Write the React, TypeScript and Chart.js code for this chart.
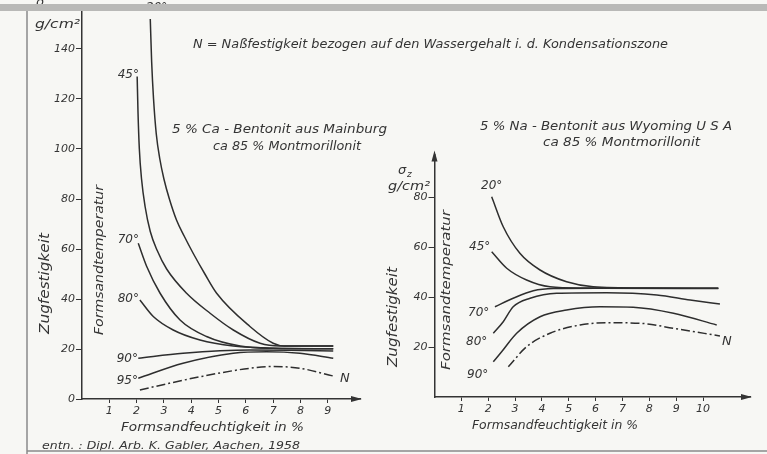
import React, { useEffect, useRef } from 'react';
import { Chart, registerables } from 'chart.js';
Chart.register(...registerables);

const W = 767;
const H = 454;
const INK = '#343434';
const LINE = '#2e2e2e';
const FONT = '"DejaVu Sans", "Liberation Sans", sans-serif';

// ---------- Left panel: 5 % Ca-Bentonit aus Mainburg ----------
const LEFT_X_TICKS = [1, 2, 3, 4, 5, 6, 7, 8, 9];
const LEFT_Y_TICKS = [0, 20, 40, 60, 80, 100, 120, 140];
const L20_X = [2.5, 2.55, 2.62, 2.72, 2.85, 3.0, 3.2, 3.46, 3.75, 4.07, 4.5, 4.93, 6.15, 7.0, 7.4, 9.2];
const L20_Y = [152, 135, 120, 106, 96, 88, 80, 71.6, 65, 58.3, 50, 42.3, 29, 22.3, 21.2, 21.2];
const L45_X = [2.02, 2.05, 2.1, 2.18, 2.31, 2.5, 2.75, 3.1, 3.83, 4.69, 5.54, 6.52, 7.25, 9.2];
const L45_Y = [129, 115, 100, 88, 77, 67, 59.5, 52, 42.3, 34.3, 27.6, 22.3, 21.2, 21.2];
const L70_X = [2.06, 2.37, 2.86, 3.59, 4.56, 5.79, 7.0, 9.2];
const L70_Y = [62.3, 53, 42.3, 31.6, 25, 21.2, 20.3, 20.1];
const L80_X = [2.12, 2.61, 3.34, 4.32, 5.54, 7.0, 9.2];
const L80_Y = [39.6, 33, 27.6, 23.6, 21.2, 20.3, 20.1];
const L90_X = [2.06, 3.7, 6.15, 7.6, 9.2];
const L90_Y = [16.3, 18.3, 19.6, 19.5, 19.2];
const L95_X = [2.06, 3.7, 5.54, 6.76, 7.98, 9.2];
const L95_Y = [8.3, 14.3, 18.3, 18.9, 18.3, 16.3];
const LN_X = [2.12, 3.2, 4.32, 6.15, 7.0, 7.98, 9.2];
const LN_Y = [3.6, 6.3, 8.9, 12.3, 13, 12.3, 9.2];

// ---------- Right panel: 5 % Na-Bentonit aus Wyoming ----------
const RIGHT_X_TICKS = [1, 2, 3, 4, 5, 6, 7, 8, 9, 10];
const RIGHT_Y_TICKS = [20, 40, 60, 80];
const R20_X = [2.13, 2.56, 3.18, 3.93, 4.92, 5.91, 8.0, 10.57];
const R20_Y = [80.1, 68.1, 57.5, 50.8, 46.1, 44.1, 43.6, 43.5];
const R45_X = [2.13, 2.69, 3.43, 4.3, 5.5, 10.57];
const R45_Y = [58.1, 51.5, 46.8, 44.1, 43.6, 43.5];
const R70_X = [2.25, 2.93, 3.68, 4.43, 6.0, 10.57];
const R70_Y = [36.1, 39.5, 42.5, 43.4, 43.5, 43.4];
const R80_X = [2.19, 2.56, 2.93, 3.56, 4.55, 6.41, 8.28, 9.52, 10.63];
const R80_Y = [25.5, 30.1, 36.1, 39.5, 41.5, 41.7, 40.8, 38.8, 37.2];
const R90_X = [2.19, 2.5, 3.06, 3.93, 4.92, 6.16, 7.4, 8.9, 10.51];
const R90_Y = [14.1, 18.1, 25.5, 32.1, 34.8, 36.1, 35.9, 33.5, 28.8];
const RN_X = [2.75, 3.43, 4.3, 5.42, 6.41, 7.65, 8.9, 10.63];
const RN_Y = [12.1, 20.1, 25.5, 28.8, 29.7, 29.5, 27.5, 24.4];

const pts = (xs: number[], ys: number[]) => xs.map((x, i) => ({ x, y: ys[i] }));

function ds(label: string, xs: number[], ys: number[], dashed = false) {
  return {
    label,
    data: pts(xs, ys),
    borderColor: LINE,
    borderWidth: 1.5,
    pointRadius: 0,
    fill: false,
    cubicInterpolationMode: 'monotone' as const,
    borderDash: dashed ? [9, 3, 2, 3] : [],
  };
}

type TOpts = { align?: CanvasTextAlign; rot?: number; fitW?: number; bold?: boolean };
function txt(ctx: CanvasRenderingContext2D, s: string, x: number, y: number, size: number, o: TOpts = {}) {
  ctx.save();
  ctx.font = `italic ${o.bold ? 'bold ' : ''}${size}px ${FONT}`;
  ctx.fillStyle = INK;
  ctx.textBaseline = 'middle';
  ctx.textAlign = o.align || 'left';
  ctx.translate(x, y);
  if (o.rot) ctx.rotate(o.rot);
  if (o.fitW) {
    const m = ctx.measureText(s).width;
    ctx.scale(o.fitW / m, 1);
  }
  ctx.fillText(s, 0, 0);
  ctx.restore();
}

function arrow(ctx: CanvasRenderingContext2D, x: number, y: number, dir: 'right' | 'up') {
  ctx.save();
  ctx.fillStyle = INK;
  ctx.beginPath();
  if (dir === 'right') {
    ctx.moveTo(x, y);
    ctx.lineTo(x - 11, y - 3);
    ctx.lineTo(x - 11, y + 3);
  } else {
    ctx.moveTo(x, y);
    ctx.lineTo(x - 3, y + 11);
    ctx.lineTo(x + 3, y + 11);
  }
  ctx.closePath();
  ctx.fill();
  ctx.restore();
}

function axes(xMax: number, yMax: number, xTicks: number[], yTicks: number[], yW: number, xH: number) {
  const tickFont = { family: FONT, size: 11, style: 'italic' as const };
  return {
    x: {
      type: 'linear' as const,
      min: 0,
      max: xMax,
      afterFit: (s: any) => { s.height = xH; },
      afterBuildTicks: (s: any) => { s.ticks = xTicks.map((v) => ({ value: v })); },
      ticks: { font: tickFont, color: INK, padding: 2, maxRotation: 0, autoSkip: false },
      grid: { drawOnChartArea: false, drawTicks: true, tickLength: 4, color: INK, lineWidth: 1 },
      border: { display: true, color: INK, width: 1.5 },
    },
    y: {
      type: 'linear' as const,
      min: 0,
      max: yMax,
      afterFit: (s: any) => { s.width = yW; },
      afterBuildTicks: (s: any) => { s.ticks = yTicks.map((v) => ({ value: v })); },
      ticks: { font: tickFont, color: INK, padding: 1, autoSkip: false },
      grid: { drawOnChartArea: false, drawTicks: true, tickLength: 6, color: INK, lineWidth: 1 },
      border: { display: true, color: INK, width: 1.5 },
    },
  };
}

const leftDecor = {
  id: 'leftDecor',
  afterDraw(chart: any) {
    const ctx: CanvasRenderingContext2D = chart.ctx;
    const a = chart.chartArea;
    arrow(ctx, a.right + 2, a.bottom, 'right');
    txt(ctx, 'σ', 36, 3, 13);
    txt(ctx, 'g/cm²', 35, 25, 12.5, { fitW: 45 });
    txt(ctx, 'Zugfestigkeit', 45, 334, 14, { rot: -Math.PI / 2, fitW: 101 });
    txt(ctx, 'Formsandtemperatur', 100, 335, 13, { rot: -Math.PI / 2, fitW: 150 });
    txt(ctx, 'Formsandfeuchtigkeit in %', 121, 428, 12, { fitW: 183 });
    txt(ctx, '20°', 146, 8, 12);
    txt(ctx, '45°', 139, 75, 12, { align: 'right' });
    txt(ctx, '70°', 139, 240, 12, { align: 'right' });
    txt(ctx, '80°', 139, 299, 12, { align: 'right' });
    txt(ctx, '90°', 138, 359, 12, { align: 'right' });
    txt(ctx, '95°', 138, 381, 12, { align: 'right' });
    txt(ctx, 'N', 340, 379, 13);
    txt(ctx, '5 % Ca - Bentonit aus Mainburg', 172, 130, 11.5, { fitW: 215 });
    txt(ctx, 'ca 85 % Montmorillonit', 213, 147, 11.5, { fitW: 148 });
  },
};

const rightDecor = {
  id: 'rightDecor',
  afterDraw(chart: any) {
    const ctx: CanvasRenderingContext2D = chart.ctx;
    const a = chart.chartArea;
    arrow(ctx, a.right + 2, a.bottom, 'right');
    arrow(ctx, a.left, a.top - 4, 'up');
    txt(ctx, 'σ', 398, 171, 13);
    txt(ctx, 'z', 407, 175, 9);
    txt(ctx, 'g/cm²', 388, 187, 12.5, { fitW: 42 });
    txt(ctx, 'Zugfestigkeit', 393, 367, 14, { rot: -Math.PI / 2, fitW: 100 });
    txt(ctx, 'Formsandtemperatur', 447, 370, 13, { rot: -Math.PI / 2, fitW: 160 });
    txt(ctx, 'Formsandfeuchtigkeit in %', 472, 426, 12, { fitW: 166 });
    txt(ctx, '20°', 481, 186, 12);
    txt(ctx, '45°', 469, 247, 12);
    txt(ctx, '70°', 468, 313, 12);
    txt(ctx, '80°', 466, 342, 12);
    txt(ctx, '90°', 467, 375, 12);
    txt(ctx, 'N', 722, 342, 13);
    txt(ctx, '5 % Na - Bentonit aus Wyoming U S A', 480, 127, 11.5, { fitW: 252 });
    txt(ctx, 'ca 85 % Montmorillonit', 543, 143, 11.5, { fitW: 157 });
    txt(ctx, 'N = Naßfestigkeit bezogen auf den Wassergehalt i. d. Kondensationszone', 193, 45, 11.5, { fitW: 475 });
    txt(ctx, 'entn. : Dipl. Arb. K. Gabler, Aachen, 1958', 42, 446, 11, { fitW: 258 });
    ctx.save();
    ctx.fillStyle = '#b9b9b7';
    ctx.fillRect(0, 4, W, 7);
    ctx.strokeStyle = '#8a8a8a';
    ctx.lineWidth = 1.5;
    ctx.beginPath();
    ctx.moveTo(27, 11);
    ctx.lineTo(27, H);
    ctx.moveTo(27, 451);
    ctx.lineTo(W, 451);
    ctx.stroke();
    ctx.restore();
  },
};

export default function App() {
  const leftRef = useRef<HTMLCanvasElement>(null);
  const rightRef = useRef<HTMLCanvasElement>(null);

  useEffect(() => {
    document.body.style.margin = '0';
    const common = {
      responsive: false,
      animation: false as const,
      devicePixelRatio: 1,
      plugins: { legend: { display: false }, tooltip: { enabled: false } },
    };

    const lyW = 50, lxH = 22;
    const left = new Chart(leftRef.current!, {
      type: 'line',
      data: {
        datasets: [
          ds('20°', L20_X, L20_Y),
          ds('45°', L45_X, L45_Y),
          ds('70°', L70_X, L70_Y),
          ds('80°', L80_X, L80_Y),
          ds('90°', L90_X, L90_Y),
          ds('95°', L95_X, L95_Y),
          ds('N', LN_X, LN_Y, true),
        ],
      },
      options: {
        ...common,
        layout: { padding: { left: 82 - lyW, top: 9, right: W - 360, bottom: H - 399 - lxH } },
        scales: axes(10.18, 156, LEFT_X_TICKS, LEFT_Y_TICKS, lyW, lxH),
      } as any,
      plugins: [leftDecor],
    });

    const ryW = 45, rxH = 22;
    const right = new Chart(rightRef.current!, {
      type: 'line',
      data: {
        datasets: [
          ds('20°', R20_X, R20_Y),
          ds('45°', R45_X, R45_Y),
          ds('70°', R70_X, R70_Y),
          ds('80°', R80_X, R80_Y),
          ds('90°', R90_X, R90_Y),
          ds('N', RN_X, RN_Y, true),
        ],
      },
      options: {
        ...common,
        layout: { padding: { left: 434.5 - ryW, top: 397 - 97 * 2.5, right: W - 750, bottom: H - 397 - rxH } },
        scales: axes(11.75, 97, RIGHT_X_TICKS, RIGHT_Y_TICKS, ryW, rxH),
      } as any,
      plugins: [rightDecor],
    });

    return () => {
      left.destroy();
      right.destroy();
    };
  }, []);

  const cv: React.CSSProperties = { position: 'absolute', left: 0, top: 0, width: W, height: H, display: 'block' };
  return (
    <div style={{ position: 'relative', width: W, height: H, background: '#f7f7f4', overflow: 'hidden' }}>
      <canvas ref={leftRef} width={W} height={H} style={cv} />
      <canvas ref={rightRef} width={W} height={H} style={cv} />
    </div>
  );
}
